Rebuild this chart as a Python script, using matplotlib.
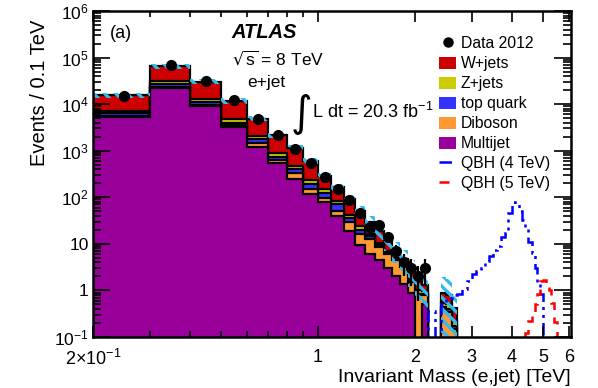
import numpy as np
import matplotlib
matplotlib.use("Agg")
import matplotlib.pyplot as plt
from matplotlib.lines import Line2D
from matplotlib.patches import Patch

plt.rcParams["font.family"] = ["Liberation Sans", "DejaVu Sans"]
plt.rcParams["mathtext.default"] = "regular"
plt.rcParams["hatch.linewidth"] = 2.4

# 0.1 TeV bins from 0.2 to 2.7 TeV
mass_edges = np.round(np.arange(0.2, 2.75, 0.1), 2)

# background components (events / 0.1 TeV), one value per bin
multijet = [5400, 22000, 9000, 3200, 1200, 550, 250, 117, 78, 39, 19, 9.5, 6.2,
            4.5, 3.0, 2.0, 1.4, 0.86, 0.0, 0.5, 0, 0, 0, 0, 0]
diboson = [300, 1500, 800, 300, 250, 90, 80, 33, 17, 11, 11, 7, 6.8,
           4.2, 3.2, 2.5, 1.8, 0.64, 0.8, 0.3, 0, 0, 0.4, 0.35, 0.15]
top_quark = [600, 3500, 1400, 500, 300, 100, 70, 45, 31, 21, 6, 3.5, 1.5,
             0.8, 0.4, 0.2, 0.1, 0.1, 0.05, 0.05, 0, 0, 0.05, 0.05, 0.02]
zjets = [900, 4000, 1800, 800, 300, 140, 65, 40, 22, 12, 6, 4, 1.5,
         1.0, 0.6, 0.3, 0.2, 0.2, 0.15, 0.1, 0, 0, 0.1, 0.1, 0.05]
wjets = [8300, 35000, 17500, 7000, 2850, 1270, 685, 365, 142, 82, 48, 26, 14,
         8.5, 4.8, 2.5, 1.3, 1.0, 0.6, 0.35, 0, 0, 0.35, 0.3, 0.2]
# relative systematic uncertainty on the total background
bkg_unc = [0.13, 0.13, 0.13, 0.13, 0.13, 0.13, 0.13, 0.14, 0.16, 0.18, 0.22, 0.27, 0.32,
           0.37, 0.42, 0.47, 0.52, 0.57, 0.62, 0.7, 0, 0, 1.2, 1.2, 1.2]

# data (first 20 bins)
data_counts = [15000, 68000, 31000, 12000, 4900, 2200, 1070, 540, 266, 147,
               87, 46, 23, 25, 14, 7, 4, 3, 2, 3]

# signal shapes
qbh4_edges = np.round(np.arange(2.2, 5.05, 0.1), 2)
qbh4 = [0.37, 0.05, 0.5, 0.7, 0.8, 0.85, 1.1, 1.6, 2.3, 2.6, 3.0, 4.2, 5.6, 7.5,
        8.8, 14, 17, 45, 80, 70, 52, 33, 23, 11, 6.3, 3.0, 1.5, 0.85]
qbh5_edges = np.round(np.arange(4.4, 5.55, 0.1), 2)
qbh5 = [0.12, 0.22, 0.35, 0.5, 0.85, 1.6, 1.7, 1.3, 1.0, 0.55, 0.21]

layers = [("Multijet", multijet, "#990099"),
          ("Diboson", diboson, "#ff9933"),
          ("top quark", top_quark, "#3333ff"),
          ("Z+jets", zjets, "#cccc00"),
          ("W+jets", wjets, "#cc0000")]
BAND = "#33bbee"
DASHDOT = (0, (5, 2, 1.2, 2, 1.2, 2))

fig = plt.figure(figsize=(5.98, 3.88), dpi=100)
ax = fig.add_axes([93 / 598, 1 - 337 / 388, 478 / 598, 326 / 388])
ax.set_xscale("log")
ax.set_yscale("log")

cum = np.cumsum([np.array(v, dtype=float) for _, v, _ in layers], axis=0)
for i in range(len(layers) - 1, -1, -1):
    vals = np.maximum(cum[i], 1e-3)
    ax.stairs(vals, mass_edges, baseline=1e-3, fill=True, color=layers[i][2], lw=0)
    ax.stairs(vals, mass_edges, baseline=1e-3, color="k", lw=1.6)

total = cum[-1]
for lo, hi, t, e in zip(mass_edges[:-1], mass_edges[1:], total, bkg_unc):
    if t <= 0:
        continue
    ax.fill_between([lo, hi], max(t * (1 - e), 1e-3), t * (1 + e),
                    hatch="\\\\\\", facecolor="none", edgecolor=BAND, lw=0)

centers = 0.5 * (mass_edges[:-1] + mass_edges[1:])[:len(data_counts)]
dc = np.array(data_counts, dtype=float)
ax.errorbar(centers, dc, yerr=np.sqrt(dc), fmt="o", color="k", ms=7,
            elinewidth=1.6, capsize=0)

ax.stairs(qbh4, qbh4_edges, baseline=1e-3, color="#0000ff", lw=1.8, linestyle=DASHDOT)
ax.stairs(qbh5, qbh5_edges, baseline=1e-3, color="#ff0000", lw=1.8,
          linestyle=(0, (4, 3)))

ax.set_xlim(0.2, 6.1)
ax.set_ylim(0.1, 1e6)
ax.set_xticks([0.2, 1, 2, 3, 4, 5, 6])
ax.set_xticklabels([r"2$\times$10$^{-1}$", "1", "2", "3", "4", "5", "6"])
ax.set_xticks([0.3, 0.4, 0.5, 0.6, 0.7, 0.8, 0.9], minor=True)
ax.xaxis.set_minor_formatter(plt.NullFormatter())
ax.set_yticks([0.1, 1, 10, 100, 1e3, 1e4, 1e5, 1e6])
ax.set_yticklabels(["10$^{-1}$", "1", "10", "10$^{2}$", "10$^{3}$",
                    "10$^{4}$", "10$^{5}$", "10$^{6}$"])
ax.tick_params(which="both", direction="in", top=True, right=True, width=1.2)
ax.tick_params(axis="y", which="major", length=12, pad=3, labelsize=12.5)
ax.tick_params(axis="y", which="minor", length=6)
ax.tick_params(axis="x", which="major", length=8, pad=8.5, labelsize=13)
ax.tick_params(axis="x", which="minor", length=4)
for s in ax.spines.values():
    s.set_linewidth(1.8)

ax.set_ylabel("Events / 0.1 TeV", fontsize=14.5, y=0.975, ha="right", labelpad=4)
ax.set_xlabel("Invariant Mass (e,jet) [TeV]", fontsize=14, loc="right", labelpad=0)

# labels
fig.text(121 / 598, 1 - 34 / 388, "(a)", fontsize=13, ha="center", va="center")
fig.text(264 / 598, 1 - 33 / 388, "ATLAS", fontsize=14.5, ha="center", va="center",
         weight="bold", style="italic")
fig.text(278 / 598, 1 - 58 / 388, r"$\sqrt{s}$ = 8 TeV", fontsize=12.5,
         ha="center", va="center")
fig.text(266 / 598, 1 - 83 / 388, "e+jet", fontsize=12.5, ha="center", va="center")
fig.text(301 / 598, 1 - 114 / 388, "\u222b", fontsize=30, ha="center", va="center",
         family=["DejaVu Sans"])
fig.text(312 / 598, 1 - 112 / 388, "L dt = 20.3 fb$^{-1}$", fontsize=13,
         ha="left", va="center")

handles = [Line2D([], [], marker="o", color="k", ls="none", ms=6.5)]
for name, _, col in layers[::-1]:
    handles.append(Patch(facecolor=col, edgecolor="none"))
handles.append(Line2D([], [], color="#0000ff", lw=1.8, ls=DASHDOT))
handles.append(Line2D([], [], color="#ff0000", lw=1.8, ls=(0, (4, 3))))
labels = ["Data 2012", "W+jets", "Z+jets", "top quark", "Diboson", "Multijet",
          "QBH (4 TeV)", "QBH (5 TeV)"]
ax.legend(handles, labels, loc="upper left", bbox_to_anchor=(439 / 598, 1 - 36 / 388),
          bbox_transform=fig.transFigure, frameon=False, fontsize=11.3,
          handlelength=1.1, handleheight=0.8, handletextpad=0.3,
          labelspacing=0.32, borderpad=0, borderaxespad=0)

fig.savefig("out.png", dpi=100)
